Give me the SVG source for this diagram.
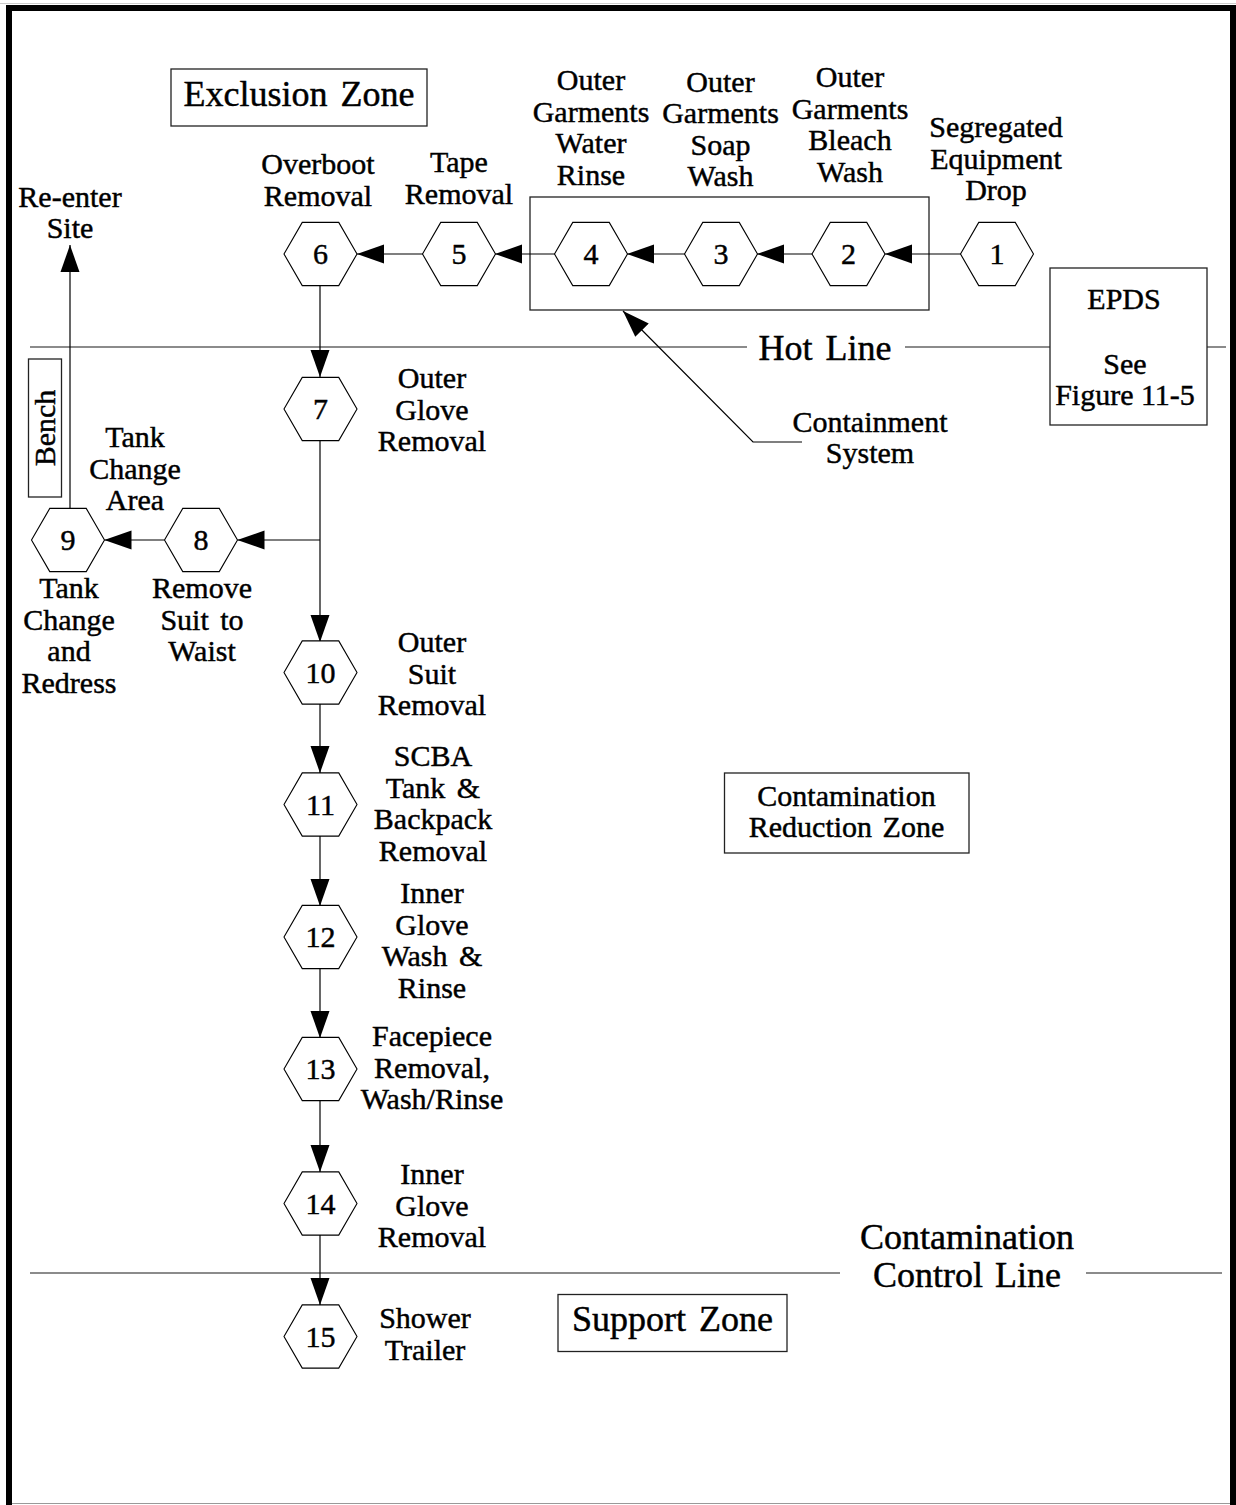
<svg xmlns="http://www.w3.org/2000/svg" xmlns:xlink="http://www.w3.org/1999/xlink" width="1236" height="1505" viewBox="0 0 1236 1505">
<style>
  text { font-family: "Liberation Serif", "Times New Roman", serif; fill: #000; stroke: #000; stroke-width: 0.45; text-anchor: middle; }
  .t { font-size: 30px; }
  .b { font-size: 36px; }
  .num { font-size: 30px; }
  .hex { fill: #fff; stroke: #000; stroke-width: 1.1; }
  .box { fill: #fff; stroke: #222; stroke-width: 1.3; }
  .zl { stroke: #666; stroke-width: 1.6; fill: none; }
  .c { stroke: #000; stroke-width: 1.2; fill: none; }
  .ca { stroke: #000; stroke-width: 1.2; fill: none; marker-end: url(#ah); }
</style>
<defs>
  <polygon id="hx" points="-36.5,0 -18.25,-31.6 18.25,-31.6 36.5,0 18.25,31.6 -18.25,31.6"/>
  <marker id="ah" viewBox="0 -10 27 20" refX="27" refY="0" markerWidth="27" markerHeight="20" markerUnits="userSpaceOnUse" orient="auto">
    <path d="M0,-9.5 L27,0 L0,9.5 z" fill="#000"/>
  </marker>
</defs>
<rect width="1236" height="1505" fill="#fff"/>

<g id="frame">
  <line x1="0" y1="3.5" x2="1236" y2="3.5" stroke="#ccc" stroke-width="1"/>
  <path d="M9,1505 V8 H1233 V1505" fill="none" stroke="#000" stroke-width="6"/>
  <line x1="12" y1="1503.5" x2="1230" y2="1503.5" stroke="#999" stroke-width="1.2"/>
</g>

<g id="zone-lines">
  <path class="zl" d="M30,347 H747 M905,347 H1050 M1207,347 H1226"/>
  <path class="zl" d="M30,1273 H840 M1086,1273 H1222"/>
  <text class="b" x="825" y="360" word-spacing="4">Hot Line</text>
  <text class="b" x="967" y="1249">Contamination</text>
  <text class="b" x="967" y="1287" word-spacing="3">Control Line</text>
</g>

<g id="containment-system">
  <rect class="box" x="530" y="197" width="399" height="113"/>
</g>

<g id="connectors">
  <line class="ca" x1="961" y1="254" x2="885" y2="254"/>
  <line class="ca" x1="812" y1="254" x2="757" y2="254"/>
  <line class="ca" x1="685" y1="254" x2="627" y2="254"/>
  <line class="ca" x1="555" y1="254" x2="495" y2="254"/>
  <line class="ca" x1="423" y1="254" x2="357" y2="254"/>
  <line class="ca" x1="320" y1="286" x2="320" y2="377"/>
  <line class="ca" x1="320" y1="441" x2="320" y2="642"/>
  <line class="ca" x1="320" y1="540" x2="237.5" y2="540"/>
  <line class="ca" x1="164.5" y1="540" x2="104.5" y2="540"/>
  <line class="ca" x1="70" y1="508" x2="70" y2="245"/>
  <line class="ca" x1="320" y1="704" x2="320" y2="773"/>
  <line class="ca" x1="320" y1="836" x2="320" y2="906"/>
  <line class="ca" x1="320" y1="968" x2="320" y2="1038"/>
  <line class="ca" x1="320" y1="1100" x2="320" y2="1172"/>
  <line class="ca" x1="320" y1="1235" x2="320" y2="1305"/>
  <path class="ca" d="M802,442 H753 L623,311"/>
</g>

<g id="n1"><use href="#hx" class="hex" x="997" y="254"/><text class="num" x="997" y="264">1</text></g>
<g id="n2"><use href="#hx" class="hex" x="848.5" y="254"/><text class="num" x="848.5" y="264">2</text></g>
<g id="n3"><use href="#hx" class="hex" x="721" y="254"/><text class="num" x="721" y="264">3</text></g>
<g id="n4"><use href="#hx" class="hex" x="591" y="254"/><text class="num" x="591" y="264">4</text></g>
<g id="n5"><use href="#hx" class="hex" x="459" y="254"/><text class="num" x="459" y="264">5</text></g>
<g id="n6"><use href="#hx" class="hex" x="320.5" y="254"/><text class="num" x="320.5" y="264">6</text></g>
<g id="n7"><use href="#hx" class="hex" x="320.5" y="409"/><text class="num" x="320.5" y="419">7</text></g>
<g id="n8"><use href="#hx" class="hex" x="201" y="540"/><text class="num" x="201" y="550">8</text></g>
<g id="n9"><use href="#hx" class="hex" x="68" y="540"/><text class="num" x="68" y="550">9</text></g>
<g id="n10"><use href="#hx" class="hex" x="320.5" y="672.5"/><text class="num" x="320.5" y="682.5">10</text></g>
<g id="n11"><use href="#hx" class="hex" x="320.5" y="804.5"/><text class="num" x="320.5" y="814.5">11</text></g>
<g id="n12"><use href="#hx" class="hex" x="320.5" y="937"/><text class="num" x="320.5" y="947">12</text></g>
<g id="n13"><use href="#hx" class="hex" x="320.5" y="1069"/><text class="num" x="320.5" y="1079">13</text></g>
<g id="n14"><use href="#hx" class="hex" x="320.5" y="1203.5"/><text class="num" x="320.5" y="1213.5">14</text></g>
<g id="n15"><use href="#hx" class="hex" x="320.5" y="1336.5"/><text class="num" x="320.5" y="1346.5">15</text></g>

<g id="labels">
  <text class="t"><tspan x="70" y="207">Re-enter</tspan><tspan x="70" y="238">Site</tspan></text>
  <text class="t"><tspan x="318" y="174">Overboot</tspan><tspan x="318" y="206">Removal</tspan></text>
  <text class="t"><tspan x="459" y="172">Tape</tspan><tspan x="459" y="204">Removal</tspan></text>
  <text class="t"><tspan x="591" y="90">Outer</tspan><tspan x="591" y="121.5">Garments</tspan><tspan x="591" y="153">Water</tspan><tspan x="591" y="184.5">Rinse</tspan></text>
  <text class="t"><tspan x="720.5" y="91.5">Outer</tspan><tspan x="720.5" y="123">Garments</tspan><tspan x="720.5" y="154.5">Soap</tspan><tspan x="720.5" y="186">Wash</tspan></text>
  <text class="t"><tspan x="850" y="87">Outer</tspan><tspan x="850" y="118.5">Garments</tspan><tspan x="850" y="150">Bleach</tspan><tspan x="850" y="181.5">Wash</tspan></text>
  <text class="t"><tspan x="996" y="137">Segregated</tspan><tspan x="996" y="168.5">Equipment</tspan><tspan x="996" y="200">Drop</tspan></text>
  <text class="t"><tspan x="870" y="432">Containment</tspan><tspan x="870" y="463">System</tspan></text>
  <text class="t"><tspan x="432" y="388">Outer</tspan><tspan x="432" y="419.5">Glove</tspan><tspan x="432" y="451">Removal</tspan></text>
  <text class="t"><tspan x="135" y="447">Tank</tspan><tspan x="135" y="478.5">Change</tspan><tspan x="135" y="510">Area</tspan></text>
  <text class="t"><tspan x="69" y="598">Tank</tspan><tspan x="69" y="629.5">Change</tspan><tspan x="69" y="661">and</tspan><tspan x="69" y="692.5">Redress</tspan></text>
  <text class="t" word-spacing="4"><tspan x="202" y="598">Remove</tspan><tspan x="202" y="629.5">Suit to</tspan><tspan x="202" y="661">Waist</tspan></text>
  <text class="t"><tspan x="432" y="652">Outer</tspan><tspan x="432" y="683.5">Suit</tspan><tspan x="432" y="715">Removal</tspan></text>
  <text class="t" word-spacing="4"><tspan x="433" y="766">SCBA</tspan><tspan x="433" y="797.5">Tank &amp;</tspan><tspan x="433" y="829">Backpack</tspan><tspan x="433" y="860.5">Removal</tspan></text>
  <text class="t" word-spacing="4"><tspan x="432" y="903">Inner</tspan><tspan x="432" y="934.5">Glove</tspan><tspan x="432" y="966">Wash &amp;</tspan><tspan x="432" y="997.5">Rinse</tspan></text>
  <text class="t"><tspan x="432" y="1046">Facepiece</tspan><tspan x="432" y="1077.5">Removal,</tspan><tspan x="432" y="1109">Wash/Rinse</tspan></text>
  <text class="t"><tspan x="432" y="1184">Inner</tspan><tspan x="432" y="1215.5">Glove</tspan><tspan x="432" y="1247">Removal</tspan></text>
  <text class="t"><tspan x="425" y="1328">Shower</tspan><tspan x="425" y="1359.5">Trailer</tspan></text>
</g>

<g id="epds">
  <rect class="box" x="1050" y="268" width="157" height="157"/>
  <text class="t" x="1124" y="309">EPDS</text>
  <text class="t"><tspan x="1125" y="374">See</tspan><tspan x="1125" y="405">Figure 11-5</tspan></text>
</g>

<g id="exclusion-zone">
  <rect class="box" x="171" y="69" width="256" height="57"/>
  <text class="b" x="299" y="106" word-spacing="4">Exclusion Zone</text>
</g>

<g id="contamination-reduction-zone">
  <rect class="box" x="724.5" y="773" width="244.5" height="80"/>
  <text class="t" word-spacing="3"><tspan x="846.5" y="806">Contamination</tspan><tspan x="846.5" y="837">Reduction Zone</tspan></text>
</g>

<g id="support-zone">
  <rect class="box" x="558" y="1294.5" width="229" height="57"/>
  <text class="b" x="672.5" y="1331" word-spacing="4">Support Zone</text>
</g>

<g id="bench">
  <rect class="box" x="28.5" y="359" width="33" height="138"/>
  <text class="t" x="45" y="438" transform="rotate(-90 45 428)">Bench</text>
</g>
</svg>
